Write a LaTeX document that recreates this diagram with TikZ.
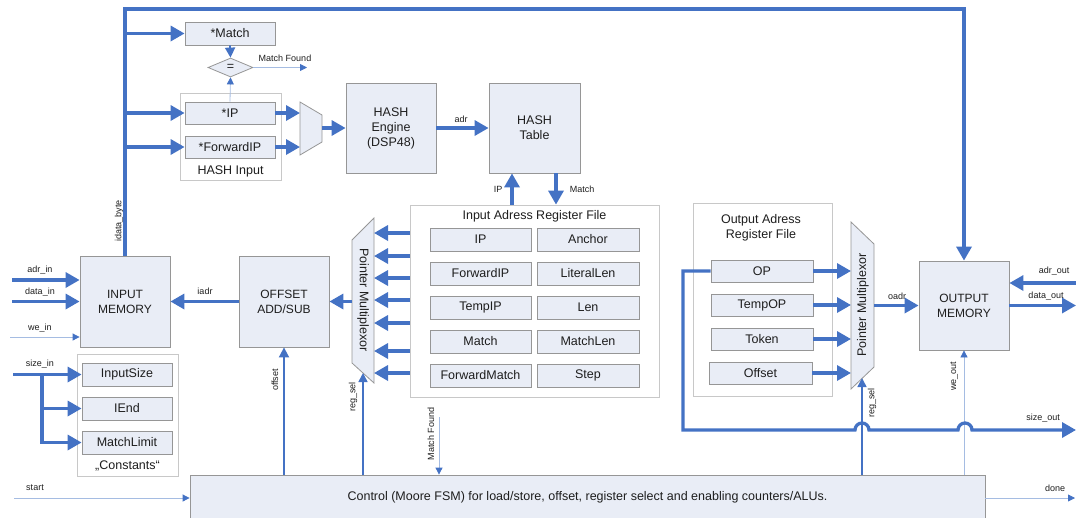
\documentclass[tikz,border=0pt]{standalone}
\usepackage{fontspec}
\setmainfont{Liberation Sans}
\usetikzlibrary{arrows.meta,shapes.geometric}
\definecolor{wire}{RGB}{68,114,196}
\definecolor{wirelight}{RGB}{165,188,226}
\definecolor{blockfill}{RGB}{233,237,246}
\definecolor{blockline}{RGB}{150,150,150}
\definecolor{groupline}{RGB}{200,200,200}
\definecolor{ink}{RGB}{30,30,30}
\begin{document}
\begin{tikzpicture}[x=1pt,y=-1pt,
  font=\fontsize{12.5}{14}\selectfont, text=ink,
  block/.style={draw=blockline, fill=blockfill, line width=0.8pt, inner sep=0pt, align=center},
  group/.style={draw=groupline, fill=white, line width=0.8pt, inner sep=0pt},
  unit/.style={block, minimum width=90pt, minimum height=90pt, font=\fontsize{12.5}{15}\selectfont},
  reg/.style={block, minimum width=101pt, minimum height=23pt},
  cst/.style={block, minimum width=90pt, minimum height=23pt},
  muxshape/.style={draw=blockline, fill=blockfill, line width=0.8pt},
  lbl/.style={font=\fontsize{9}{10}\selectfont, inner sep=0pt},
  bus/.style={draw=wire, line width=3.3pt},
  busarrow/.style={bus, -{Triangle[length=14pt,width=15pt]}},
  medarrow/.style={draw=wire, line width=1.8pt, -{Triangle[length=10pt,width=10pt]}},
  selarrow/.style={draw=wire, line width=1.5pt, -{Triangle[length=9pt,width=9pt]}},
  thinarrow/.style={draw=wirelight, line width=0.8pt, -{Triangle[length=7pt,width=7pt,color=wire]}},
]
\useasboundingbox (0,0) rectangle (1076,517);

% ---------- group frames ----------
\node[group, minimum width=101pt, minimum height=87pt] (hashin) at (230.5,136.5) {};
\node (hashinlbl) at (230.5,171) {HASH Input};
\node[group, minimum width=249pt, minimum height=192pt] (irf) at (534.5,301) {};
\node (irflbl) at (534.5,216) {Input Adress Register File};
\node[group, minimum width=101pt, minimum height=122pt] (consts) at (127.5,415) {};
\node (constslbl) at (127.5,466) {„Constants“};
\node[group, minimum width=139pt, minimum height=193pt] (orf) at (762.5,299.5) {};
\node[align=center, font=\fontsize{12.5}{14.5}\selectfont] (orflbl) at (761,228) {Output Adress\\Register File};

% ---------- hash path ----------
\node[block, minimum width=90pt, minimum height=23pt] (match) at (230,33.5) {*Match};
\node[draw=blockline, fill=blockfill, line width=0.8pt, diamond, inner sep=0pt,
      minimum width=45pt, minimum height=19pt] (eq) at (230.5,67.5) {=};
\node[block, minimum width=90pt, minimum height=22pt] (ip) at (230,113) {*IP};
\node[block, minimum width=90pt, minimum height=22pt] (fip) at (230,147) {*ForwardIP};
\draw[muxshape] (300,102) -- (322,115) -- (322,142) -- (300,155) -- cycle;
\coordinate (hmuxin1) at (300,113);
\coordinate (hmuxin2) at (300,147);
\coordinate (hmuxout) at (322,128);
\node[unit] (heng) at (391,128) {HASH\\Engine\\(DSP48)};
\node[unit, minimum width=91pt] (htab) at (534.5,128) {HASH\\Table};

% ---------- input register file ----------
\node[reg] (rIP)  at (480.5,239.5) {IP};
\node[reg] (rFIP) at (480.5,273.5) {ForwardIP};
\node[reg] (rTIP) at (480.5,307.5) {TempIP};
\node[reg] (rM)   at (480.5,341.5) {Match};
\node[reg] (rFM)  at (480.5,375.5) {ForwardMatch};
\node[reg, minimum width=102pt] (rA)  at (588,239.5) {Anchor};
\node[reg, minimum width=102pt] (rLL) at (588,273.5) {LiteralLen};
\node[reg, minimum width=102pt] (rL)  at (588,307.5) {Len};
\node[reg, minimum width=102pt] (rML) at (588,341.5) {MatchLen};
\node[reg, minimum width=102pt] (rS)  at (588,375.5) {Step};

% input pointer multiplexor
\draw[muxshape] (352,240) -- (374,218) -- (374,383) -- (352,363) -- cycle;
\node[rotate=-90] (imuxlbl) at (363,300) {Pointer Multiplexor};
\coordinate (imuxout) at (352,301.5);
\coordinate (imuxsel) at (363,373);

% ---------- memories and offset unit ----------
\node[unit, minimum height=91pt, font=\fontsize{12}{15}\selectfont] (imem) at (125,301.5) {INPUT\\MEMORY};
\node[unit, minimum height=91pt, font=\fontsize{12}{15}\selectfont] (offs) at (284,301.5) {OFFSET\\ADD/SUB};
\node[unit, minimum height=89pt, font=\fontsize{12}{15}\selectfont] (omem) at (964,305.5) {OUTPUT\\MEMORY};

% constants
\node[cst] (insz) at (127,374.5) {InputSize};
\node[cst] (iend) at (127,408.5) {IEnd};
\node[cst] (mlim) at (127,442.5) {MatchLimit};

% ---------- output register file ----------
\node[reg, minimum width=102pt, minimum height=22pt] (oOP)  at (762,271) {OP};
\node[reg, minimum width=102pt, minimum height=22pt] (oTOP) at (762,305) {TempOP};
\node[reg, minimum width=102pt, minimum height=22pt] (oTok) at (762,339) {Token};
\node[reg, minimum width=103pt, minimum height=22pt] (oOff) at (760.5,373) {Offset};
\draw[muxshape] (851,222) -- (874,244) -- (874,367) -- (851,389) -- cycle;
\node[rotate=90] (omuxlbl) at (863,305) {Pointer Multiplexor};
\coordinate (omuxout) at (874,305.5);
\coordinate (omuxsel) at (862,378);

% ---------- control ----------
\node[block, minimum width=795pt, minimum height=45pt, font=\fontsize{12.5}{14}\selectfont] (ctrl) at (587.5,497.5)
  {Control (Moore FSM) for load/store, offset, register select and enabling counters/ALUs.};

% ---------- wiring: top bus ----------
\draw[busarrow] (imem.north) -- (125,9) -- (omem.north |- 0,9) -- (omem.north);
\draw[busarrow] (imem.north |- match.west) -- (match.west);
\draw[busarrow] (imem.north |- ip.west) -- (ip.west);
\draw[busarrow] (imem.north |- fip.west) -- (fip.west);
\node[lbl, rotate=90] (idatalbl) at (119,221) {idata\_byte};

% compare
\draw[medarrow] (match.south) -- (eq.north);
\draw[thinarrow] (ip.north) -- (eq.south);
\coordinate (mfound) at (307,67.5);
\draw[thinarrow] (eq.east) -- (mfound);
\node[lbl] (mfoundlbl) at (285,58) {Match Found};

% hash engine
\draw[busarrow] (ip.east) -- (hmuxin1);
\draw[busarrow] (fip.east) -- (hmuxin2);
\draw[busarrow] (hmuxout) -- (heng.west);
\draw[busarrow] (heng.east) -- (htab.west);
\node[lbl] (adrlbl) at (461,119) {adr};
\draw[busarrow] (irf.north -| 512,0) -- (htab.south -| 512,0);
\draw[busarrow] (htab.south -| 556,0) -- (irf.north -| 556,0);
\node[lbl] (htiplbl) at (498,189) {IP};
\node[lbl] (htmlbl) at (582,189) {Match};

% register file into input multiplexor
\foreach \yy [count=\k] in {233,256,278,300,323,351,373} {
  \coordinate (imuxin\k) at (374,\yy);
  \draw[busarrow] (irf.west |- imuxin\k) -- (imuxin\k);
}
\draw[busarrow] (imuxout) -- (offs.east);
\draw[busarrow] (offs.west) -- (imem.east);
\node[lbl] (iadrlbl) at (205,291) {iadr};

% memory inputs
\coordinate (adrin) at (12,280);
\coordinate (datain) at (12,301.5);
\coordinate (wein) at (10,337);
\coordinate (sizein) at (13,374.5);
\coordinate (sizebr) at (42,374.5);
\draw[busarrow] (adrin) -- (imem.west |- adrin);
\draw[busarrow] (datain) -- (imem.west |- datain);
\draw[thinarrow] (wein) -- (imem.west |- wein);
\node[lbl] (adrinlbl) at (40,270) {adr\_in};
\node[lbl] (datainlbl) at (40,292) {data\_in};
\node[lbl] (weinlbl) at (40,328) {we\_in};
\draw[busarrow] (sizein) -- (insz.west);
\draw[busarrow] (sizebr) |- (iend.west);
\draw[busarrow] (sizebr) |- (mlim.west);
\node[lbl] (sizeinlbl) at (40,364) {size\_in};

% control outputs
\draw[medarrow] (ctrl.north -| offs.south) -- (offs.south);
\node[lbl, rotate=90] (offsetlbl) at (275,380) {offset};
\draw[selarrow] (ctrl.north -| imuxsel) -- (imuxsel);
\node[lbl, rotate=90] (iselbl) at (353,397) {reg\_sel};
\coordinate (mfin) at (439,417);
\draw[thinarrow] (mfin) -- (ctrl.north -| mfin);
\node[lbl, rotate=90] (mfinlbl) at (431,434) {Match Found};
\coordinate (startin) at (14,498);
\coordinate (doneout) at (1075,498);
\draw[thinarrow] (startin) -- (ctrl.west |- startin);
\draw[thinarrow] (ctrl.east |- doneout) -- (doneout);
\node[lbl] (startlbl) at (35,488) {start};
\node[lbl] (donelbl) at (1055,488) {done};

% output side
\draw[busarrow] (oOP.east) -- (851,271);
\draw[busarrow] (oTOP.east) -- (851,305);
\draw[busarrow] (oTok.east) -- (851,339);
\draw[busarrow] (oOff.east) -- (851,373);
\draw[busarrow] (omuxout) -- (omem.west);
\node[lbl] (oadrlbl) at (897,296) {oadr};
\coordinate (adrout) at (1076,283);
\coordinate (dataout) at (1076,305.5);
\draw[busarrow] (adrout) -- (omem.east |- adrout);
\draw[busarrow] (omem.east) -- (dataout);
\node[lbl] (adroutlbl) at (1054,271) {adr\_out};
\node[lbl] (dataoutlbl) at (1046,296) {data\_out};
\draw[thinarrow] (ctrl.north -| omem.south) -- (omem.south);
\node[lbl, rotate=90] (weoutlbl) at (954,376) {we\_out};
\draw[selarrow] (ctrl.north -| omuxsel) -- (omuxsel);
\node[lbl, rotate=90] (oselbl) at (872,403) {reg\_sel};

% size output, hopping over the select and write-enable lines
\coordinate (sizeout) at (1076,430);
\draw[busarrow] (oOP.west) -- (683,271) -- (683,430) -- (855,430)
  arc[start angle=180, end angle=0, radius=7pt] -- (958,430)
  arc[start angle=180, end angle=0, radius=7pt] -- (sizeout);
\node[lbl] (sizeoutlbl) at (1043,418) {size\_out};
\end{tikzpicture}
\end{document}
